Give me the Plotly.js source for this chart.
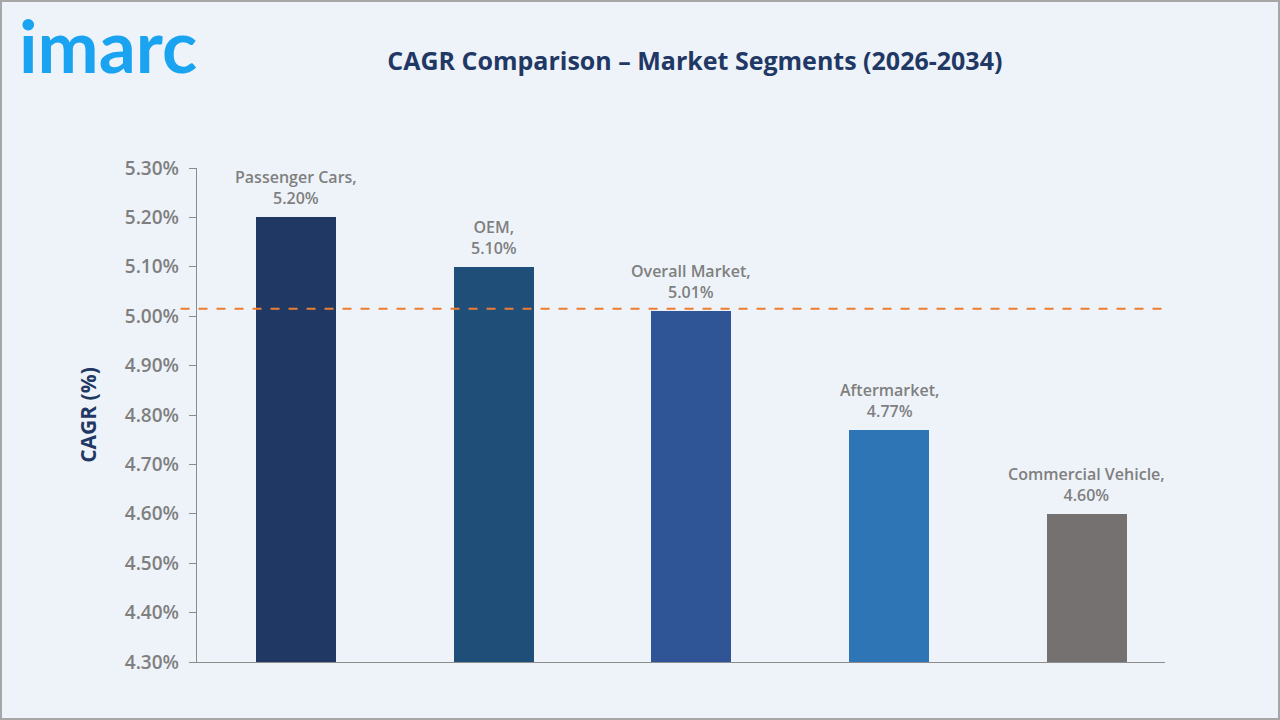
<!DOCTYPE html>
<html><head><meta charset="utf-8">
<script src="https://cdn.plot.ly/plotly-3.0.1.min.js"></script>
<style>html,body{margin:0;padding:0;background:#eef3f9;}#chart{width:1280px;height:720px;box-sizing:border-box;border:2px solid #a6a6a6;}</style>
</head><body><div id="chart"></div>
<script>
const categories = ["Passenger Cars", "OEM", "Overall Market", "Aftermarket", "Commercial Vehicle"];
const values = [5.20, 5.10, 5.01, 4.77, 4.60];
const barColors = ["#1f3864", "#1f4e79", "#2f5597", "#2e75b6", "#767171"];
const refLine = 5.015;
const tickVals = [4.3, 4.4, 4.5, 4.6, 4.7, 4.8, 4.9, 5.0, 5.1, 5.2, 5.3];
const tickText = tickVals.map(v => v.toFixed(2) + "%");

const idx = categories.map((c, i) => i);
const trace = {
  type: "bar", x: idx, y: values,
  marker: {color: barColors}, width: 0.405, hoverinfo: "skip"
};

const annotations = categories.map((c, i) => ({
  x: i, y: values[i], xref: "x", yref: "y",
  text: c + ",<br>" + values[i].toFixed(2) + "%",
  showarrow: false, yanchor: "bottom", yshift: 6,
  font: {family: "Open Sans, sans-serif", size: 16, color: "#7f7f7f", weight: 600}
}));
annotations.push({
  xref: "paper", yref: "paper", x: -0.186, y: 1.25, xanchor: "left", yanchor: "middle",
  text: "imarc", showarrow: false,
  font: {family: "Lato, sans-serif", size: 73, color: "#1aa3f0", weight: 700}
});

const layout = {
  width: 1276, height: 716,
  paper_bgcolor: "#eef3f9", plot_bgcolor: "#eef3f9",
  margin: {l: 195, r: 113, t: 166, b: 56},
  title: {text: "CAGR Comparison – Market Segments (2026-2034)", x: 0.543, xanchor: "center", y: 0.93,
    font: {family: "Open Sans, sans-serif", size: 25, color: "#1f3864", weight: 700}},
  showlegend: false,
  bargap: 0,
  xaxis: {range: [-0.5, 4.395], showticklabels: false, ticks: "", showgrid: false, zeroline: false,
    showline: true, linecolor: "#8c8c8c", linewidth: 1.2, fixedrange: true},
  yaxis: {range: [4.3, 5.3], tickvals: tickVals, ticktext: tickText,
    ticks: "outside", ticklen: 7, tickcolor: "#8c8c8c", showgrid: false, zeroline: false,
    showline: true, linecolor: "#8c8c8c", linewidth: 1.2, ticklabelstandoff: 6,
    tickfont: {family: "Open Sans, sans-serif", size: 19, color: "#7f7f7f", weight: 600},
    title: {text: "CAGR (%)", standoff: 22, font: {family: "Open Sans, sans-serif", size: 21, color: "#1f3864", weight: 700}}},
  shapes: [{type: "line", xref: "paper", yref: "y", x0: -0.017, x1: 1.005,
    y0: refLine, y1: refLine, line: {color: "#ed7d31", width: 2, dash: "dash"}}],
  annotations: annotations
};
Plotly.newPlot("chart", [trace], layout, {displayModeBar: false, staticPlot: true});
</script></body></html>
